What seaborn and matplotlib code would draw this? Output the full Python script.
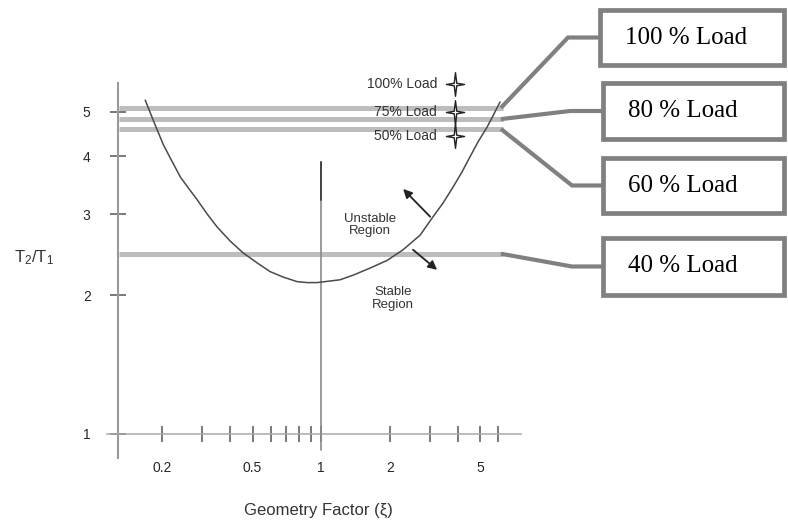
import matplotlib
matplotlib.use("Agg")
import matplotlib.pyplot as plt
import seaborn as sns
import pandas as pd
from matplotlib.lines import Line2D
from matplotlib.patches import Rectangle
from matplotlib.path import Path
from matplotlib.ticker import NullFormatter, FixedFormatter, FixedLocator

# Stability boundary: geometry factor vs temperature ratio
xi_curve = [0.169, 0.176, 0.183, 0.203, 0.220, 0.241, 0.261, 0.286, 0.316,
            0.350, 0.399, 0.455, 0.524, 0.597, 0.681, 0.785, 0.868, 0.96,
            1.21, 1.38, 1.64, 1.95, 2.29, 2.72, 3.10, 3.43, 3.79, 4.15,
            4.50, 4.88, 5.35, 5.68, 6.10]
t_curve = [5.30, 5.04, 4.80, 4.24, 3.93, 3.61, 3.42, 3.22, 3.00,
           2.81, 2.62, 2.47, 2.35, 2.25, 2.19, 2.14, 2.13, 2.13,
           2.16, 2.21, 2.29, 2.38, 2.51, 2.70, 2.96, 3.17, 3.43, 3.70,
           3.99, 4.30, 4.63, 4.90, 5.25]

# Operating load levels (T2/T1) and their call-out labels
load_labels = ["100 % Load", "80 % Load", "60 % Load", "40 % Load"]
load_levels = [5.10, 4.82, 4.59, 2.46]
load_span = [0.129, 6.28]

# Original load markers inside the plot
marker_labels = ["100% Load", "75% Load", "50% Load"]
marker_levels = [5.74, 4.99, 4.43]
marker_xi = 3.87
marker_text_xi = 3.23

y_ticks = [1, 2, 3, 4, 5]
y_tick_labels = ["1", "2", "3", "4", "5"]
x_major = [0.2, 0.5, 1, 2, 5]
x_major_labels = ["0.2", "0.5", "1", "2", "5"]
x_minor = [0.3, 0.4, 0.6, 0.7, 0.8, 0.9, 3, 4, 6]

sns.set_theme(style="white")
plt.rcParams["font.family"] = ["Liberation Sans", "DejaVu Sans"]
plt.rcParams["mathtext.default"] = "regular"

W, H = 788, 521
fig = plt.figure(figsize=(W / 100, H / 100), dpi=100)
ax_left, ax_right, ax_top, ax_bottom = 100, 525, 80, 460
ax = fig.add_axes([ax_left / W, 1 - ax_bottom / H,
                   (ax_right - ax_left) / W, (ax_bottom - ax_top) / H])
ax.set_xscale("log")
ax.set_yscale("log")
ax.set_xlim(0.107, 7.85)
ax.set_ylim(0.878, 5.86)

# Horizontal load bands
ax.hlines(load_levels, load_span[0], load_span[1], color="#bdbdbd", lw=3.6, zorder=2)

# Stability curve
curve = pd.DataFrame({"xi": xi_curve, "ratio": t_curve})
sns.lineplot(data=curve, x="xi", y="ratio", sort=False, estimator=None,
             color="#4a4a4a", lw=1.1, ax=ax, zorder=4)

# Vertical reference at xi = 1
ax.plot([1, 1], [0.923, 3.89], color="#8a8a8a", lw=1.2, zorder=3)
ax.plot([1, 1], [3.22, 3.89], color="#444444", lw=1.4, zorder=3)

# Axes drawn as crossing lines
for s in ["top", "right"]:
    ax.spines[s].set_visible(False)
ax.spines["left"].set_position(("data", 0.128))
ax.spines["left"].set_bounds(0.887, 5.77)
ax.spines["left"].set_color("#9a9a9a")
ax.spines["left"].set_linewidth(1.5)
ax.spines["bottom"].set_position(("data", 1.0))
ax.spines["bottom"].set_bounds(0.115, 7.55)
ax.spines["bottom"].set_color("#a8a8a8")
ax.spines["bottom"].set_linewidth(1.1)

ax.yaxis.set_major_locator(FixedLocator(y_ticks))
ax.yaxis.set_major_formatter(FixedFormatter(y_tick_labels))
ax.yaxis.set_minor_locator(FixedLocator([]))
ax.xaxis.set_major_locator(FixedLocator(x_major))
ax.xaxis.set_major_formatter(FixedFormatter(x_major_labels))
ax.xaxis.set_minor_locator(FixedLocator(x_minor))
ax.xaxis.set_minor_formatter(NullFormatter())
ax.tick_params(axis="both", which="both", direction="inout", length=11,
               width=1.1, color="#555555", labelcolor="#262626", labelsize=10)
ax.tick_params(axis="y", pad=14)
ax.tick_params(axis="x", which="both", pad=14)
ax.tick_params(axis="both", which="both", left=True, bottom=True)

ax.set_xlabel("Geometry Factor (ξ)", fontsize=12, color="#333333")
ax.xaxis.set_label_coords((318 - ax_left) / (ax_right - ax_left),
                          (ax_bottom - 510) / (ax_bottom - ax_top))
ax.xaxis.label.set_va("center")
ax.set_ylabel("T$_2$/T$_1$", fontsize=12, color="#333333", rotation=0)
ax.yaxis.set_label_coords((34 - ax_left) / (ax_right - ax_left),
                          (ax_bottom - 258) / (ax_bottom - ax_top))
ax.yaxis.label.set_va("center")
ax.yaxis.label.set_ha("center")

# Four-point star markers
star = Path([(0, 1.3), (0.14, 0.14), (1, 0), (0.14, -0.14), (0, -1.3),
             (-0.14, -0.14), (-1, 0), (-0.14, 0.14), (0, 1.3)],
            [Path.MOVETO] + [Path.LINETO] * 7 + [Path.CLOSEPOLY])
ax.plot([marker_xi, marker_xi], marker_levels[1:], color="#222222", lw=1.0,
        zorder=5, clip_on=False)
for lbl, lvl in zip(marker_labels, marker_levels):
    ax.plot(marker_xi, lvl, marker=star, ms=17, mfc="white", mec="#222222",
            mew=1.0, zorder=6, clip_on=False)
    ax.text(marker_text_xi, lvl, lbl, ha="right", va="center", fontsize=10,
            color="#333333", zorder=5, clip_on=False)

# Region labels and arrows
ax.text(1.64, 2.84, "Unstable\nRegion", ha="center", va="center",
        fontsize=9.5, color="#333333", linespacing=1.1)
ax.text(2.07, 1.97, "Stable\nRegion", ha="center", va="center",
        fontsize=9.5, color="#333333", linespacing=1.1)
arrow_kw = dict(arrowstyle="-|>", color="#222222", lw=1.3, mutation_scale=13,
                shrinkA=0, shrinkB=0)
ax.annotate("", xy=(2.29, 3.40), xytext=(3.01, 2.96), arrowprops=arrow_kw)
ax.annotate("", xy=(3.23, 2.27), xytext=(2.53, 2.51), arrowprops=arrow_kw)

# Call-out boxes to the right, joined to the load bands
boxes = [(600, 10, 784, 65), (603, 83, 784, 139),
         (603, 158, 784, 213), (603, 238, 784, 295)]
elbows = [568, 570, 572, 572]


def fig_xy(px, py):
    return px / W, 1 - py / H


fig.canvas.draw()
for lbl, lvl, (x0, y0, x1, y1), ex in zip(load_labels, load_levels, boxes, elbows):
    sx, sy = ax.transData.transform((load_span[1], lvl))
    sy_top = H - sy
    cy = (y0 + y1) / 2
    pts = [fig_xy(sx - 2, sy_top), fig_xy(ex, cy), fig_xy(x0, cy)]
    fig.add_artist(Line2D([p[0] for p in pts], [p[1] for p in pts],
                          transform=fig.transFigure, color="#808080", lw=3.0,
                          solid_joinstyle="miter", solid_capstyle="butt"))
    bx, by = fig_xy(x0, y1)
    fig.add_artist(Rectangle((bx, by), (x1 - x0) / W, (y1 - y0) / H,
                             transform=fig.transFigure, facecolor="white",
                             edgecolor="#808080", lw=3.4, joinstyle="miter"))
    tx, ty = fig_xy(x0 + 25, cy)
    fig.text(tx, ty, lbl, ha="left", va="center", fontsize=18,
             family="Liberation Serif", color="black")

fig.savefig("out.png", dpi=100)
